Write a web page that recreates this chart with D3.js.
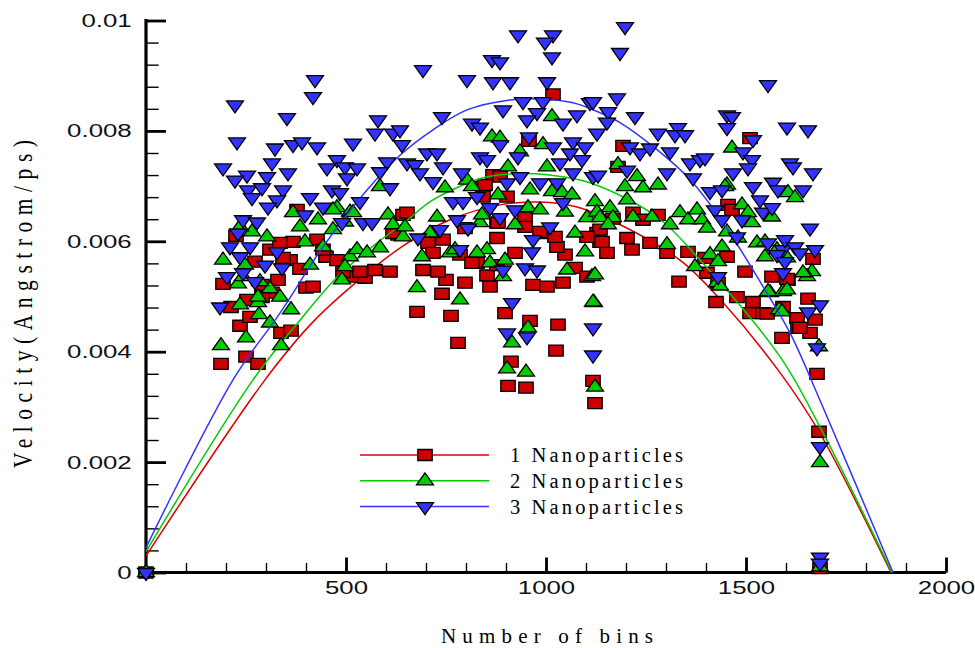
<!DOCTYPE html>
<html>
<head>
<meta charset="utf-8">
<script src="https://cdn.jsdelivr.net/npm/d3@7"></script>
<style>
  body { margin: 0; background: #fff; }
  svg { display: block; }
</style>
</head>
<body>
<svg id="chart" width="975" height="648"></svg>
<script>
// Scatter values: [bins, velocity]
var nano1 = [
  [0,0],[187.5,0.00378],[250,0.00391],[280,0.00378],[235,0.00447],[260,0.00463],[337.5,0.00434],[362.5,0.00438],
  [192.5,0.00523],[212.5,0.00481],[225,0.0061],[272.5,0.00563],[310,0.00585],[330,0.0053],[315,0.00507],[290,0.00499],
  [252.5,0.00494],[360,0.00566],[385,0.0055],[400,0.00516],[417.5,0.00518],[427.5,0.00603],[450,0.00572],[477.5,0.00566],
  [517.5,0.00536],[547.5,0.00534],[572.5,0.00548],[610,0.00545],[642.5,0.00648],[630,0.00612],[492.5,0.00545],[535,0.00545],
  [290,0.00521],[367.5,0.00599],[377.5,0.00657],[335,0.00597],[342.5,0.0057],[442.5,0.00585],[617.5,0.00615],
  [677.5,0.00472],[762.5,0.00465],[780,0.00416],[897.5,0.0047],[960,0.00456],[1030,0.00449],[912.5,0.00382],[1025,0.00402],
  [905,0.00338],[950,0.00335],[1117.5,0.00347],[1122.5,0.00307],[1017.5,0.00866],[957.5,0.00782],[877.5,0.00606],
  [922.5,0.00579],[947.5,0.00643],[877.5,0.00634],[852.5,0.00538],[860,0.00518],[827.5,0.00561],[797.5,0.00525],
  [750,0.0053],[740,0.00505],[730,0.00545],[692.5,0.00548],[967.5,0.00521],[1002.5,0.00518],[1042.5,0.00525],
  [1047.5,0.00576],[1072.5,0.00552],[1027.5,0.0059],[1102.5,0.00536],[652.5,0.00652],[867.5,0.0072],[842.5,0.00699],
  [1002.5,0.00615],[1127.5,0.00615],[1192.5,0.00773],[1180,0.00735],[1510,0.00787],[1167.5,0.00641],[1135,0.00621],
  [1135,0.00599],[1152.5,0.00579],[1202.5,0.00606],[1215,0.00585],[1260,0.00597],[1280,0.00648],[1302.5,0.00579],
  [1355,0.00581],[1217.5,0.00652],[1332.5,0.00527],[1452.5,0.00572],[1455,0.00666],[1402.5,0.00543],[1430,0.00525],
  [1497.5,0.00545],[1425,0.0049],[1477.5,0.00499],[1510,0.0047],[1542.5,0.0047],[1565,0.00536],[1590,0.00425],
  [1592.5,0.00481],[1465,0.00657],[1242.5,0.00639],[1667.5,0.00568],[1605,0.0053],[1655,0.00496],[1672.5,0.00458],
  [1627.5,0.00461],[1630,0.00443],[1660,0.00434],[1677.5,0.0036],[1682.5,0.00255],[1397.5,0.0057],[1517.5,0.0049],
  [1552.5,0.00469],[1602.5,0.00532],[1635,0.00443],[1685,0.00008],
  [885,0.00717],[847.5,0.00702],[842.5,0.00681],[902.5,0.00681],[880,0.00634],[947.5,0.00626],[1022.5,0.00608],
  [985,0.00617],[1102.5,0.00608],[1140,0.00599],[785,0.00576],[815,0.00561],[705,0.00597],[742.5,0.00603],
  [797.5,0.00624],[717.5,0.00579],[877.5,0.00557]
];

var nano2 = [
  [0,0],[187.5,0.00411],[250,0.00425],[282.5,0.00467],[310,0.00452],[337.5,0.00411],[362.5,0.00476],[235,0.00485],
  [280,0.00489],[785,0.00494],[955,0.00443],[915,0.00416],[902.5,0.00369],[950,0.00363],[1120,0.00489],[1122.5,0.00336],
  [1582.5,0.00476],[1682.5,0.00409],[1685,0.00199],[1685,0.0001],[192.5,0.00566],[230,0.00523],[247.5,0.00557],
  [265,0.00617],[302.5,0.00608],[235,0.00626],[280,0.00499],[310,0.00514],[335,0.00499],[367.5,0.00652],[385,0.00626],
  [397.5,0.00599],[410,0.00557],[442.5,0.0059],[430,0.00639],[467.5,0.00621],[477.5,0.00661],[510,0.00653],[510,0.00572],
  [497.5,0.00554],[490,0.0053],[527.5,0.00585],[552.5,0.00579],[585,0.00588],[585,0.00699],[605,0.00648],[617.5,0.0063],
  [642.5,0.00608],[242.5,0.00536],[285,0.00527],[497.5,0.00635],[517.5,0.00652],[467.5,0.00657],
  [677.5,0.00516],[690,0.00572],[747.5,0.00697],[727.5,0.00644],[710,0.00615],[802.5,0.00711],[815,0.00699],
  [852.5,0.00585],[860,0.00561],[897.5,0.00566],[892.5,0.00536],[865,0.00789],[885,0.00787],[835,0.00634],[880,0.00684],
  [905,0.00735],[935,0.00762],[960,0.00693],[922.5,0.0063],[955,0.00661],[985,0.00657],[992.5,0.00775],[1002.5,0.00735],
  [1015,0.00826],[1015,0.0069],[1040,0.00688],[1065,0.00684],[1047.5,0.00653],[1072.5,0.00615],[1097.5,0.00581],
  [1102.5,0.00643],[1122.5,0.00672],[1052.5,0.00548],[1115,0.00536],[1117.5,0.0049],[840,0.00648],[760,0.00579],
  [772.5,0.00585],[827.5,0.00579],[647.5,0.00626],[1180,0.00739],[1197.5,0.00699],[1227.5,0.00717],[1242.5,0.00697],
  [1280,0.00702],[1202.5,0.00675],[1127.5,0.00653],[1160,0.00661],[1167.5,0.00643],[1135,0.00643],[1155,0.0063],
  [1217.5,0.00644],[1265,0.00644],[1122.5,0.00539],[1302.5,0.00594],[1310,0.0063],[1335,0.00652],[1355,0.00639],
  [1377.5,0.00657],[1390,0.00639],[1402.5,0.00624],[1372.5,0.00554],[1410,0.00576],[1430,0.00563],[1440,0.0059],
  [1427.5,0.00525],[1465,0.00769],[1452.5,0.00702],[1490,0.00666],[1515,0.00634],[1452.5,0.00617],[1527.5,0.00597],
  [1547.5,0.00599],[1547.5,0.00572],[1577.5,0.00585],[1560,0.00507],[1602.5,0.0057],[1592.5,0.00509],[1447.5,0.00699],
  [1505,0.00652],[1480,0.00606],[1435,0.00519],[1555,0.00509],[1605,0.00688],[1622.5,0.00679],[1665,0.00545],
  [1652.5,0.00536],[1642.5,0.00543],[1602.5,0.00512],[1590,0.00472],[1565,0.00644]
];

var nano3 = [
  [0,0],[422.5,0.00893],[417.5,0.00862],[222.5,0.00847],[352.5,0.00824],[580,0.0082],[572.5,0.00796],[617.5,0.00796],
  [227.5,0.0078],[322.5,0.00769],[367.5,0.00775],[390,0.0078],[427.5,0.00771],[517.5,0.00778],[640,0.00775],
  [477.5,0.00748],[452.5,0.00733],[497.5,0.00735],[527.5,0.00733],[602.5,0.00744],[585,0.00726],[315,0.00742],
  [192.5,0.00733],[252.5,0.0072],[222.5,0.00711],[355,0.00724],[302.5,0.00717],[502.5,0.00715],[255,0.00693],
  [290,0.00697],[265,0.00679],[342.5,0.00693],[327.5,0.00675],[305,0.00662],[465,0.00693],[485,0.00688],[610,0.00697],
  [410,0.00679],[442.5,0.00662],[535,0.00672],[397.5,0.00648],[490,0.00634],[542.5,0.00634],[565,0.00634],
  [242.5,0.00639],[277.5,0.00635],[230,0.00615],[210,0.0059],[260,0.0059],[235,0.00572],[327.5,0.00581],[297.5,0.00557],
  [340,0.00552],[202.5,0.00536],[242.5,0.00543],[272.5,0.00527],[185,0.00481],
  [930,0.00974],[1017.5,0.00974],[997.5,0.00961],[1015,0.00934],[865,0.00929],[885,0.00925],[692.5,0.00911],
  [802.5,0.00893],[867.5,0.00889],[910,0.00889],[1002.5,0.00889],[740,0.00826],[892.5,0.00838],[942.5,0.00853],
  [992.5,0.00853],[1110,0.00851],[1077.5,0.00829],[977.5,0.00833],[952.5,0.0082],[1042.5,0.00814],[815,0.00814],
  [835,0.00807],[635,0.00802],[957.5,0.00789],[885,0.00775],[1067.5,0.0078],[1097.5,0.00771],[1017.5,0.00771],
  [702.5,0.0076],[727.5,0.0076],[652.5,0.00742],[672.5,0.00739],[742.5,0.00735],[835,0.00753],[852.5,0.00748],
  [930,0.00753],[1035,0.00742],[1060,0.0076],[1090,0.00748],[685,0.00724],[790,0.00724],[717.5,0.00708],[935,0.00717],
  [902.5,0.00706],[985,0.00706],[1027.5,0.00706],[1067.5,0.00724],[1117.5,0.00717],[827.5,0.00681],[767.5,0.00672],
  [792.5,0.00672],[1042.5,0.0067],[860,0.00661],[922.5,0.00657],[885,0.00643],[1010,0.00626],[777.5,0.00639],
  [805,0.00624],[735,0.00621],[680,0.00606],[967.5,0.00603],[785,0.00585],[965,0.00581],[892.5,0.00548],
  [947.5,0.00552],[977.5,0.00548],[915,0.00489],[902.5,0.00434],[952.5,0.00427],[1117.5,0.00443],[1117.5,0.00394],
  [1197.5,0.00989],[1185,0.00942],[1555,0.00884],[1117.5,0.00853],[1177.5,0.0086],[1155,0.00835],[1152.5,0.00816],
  [1222.5,0.00826],[1127.5,0.00796],[1210,0.00771],[1235,0.0076],[1260,0.00769],[1280,0.00796],[1330,0.00806],
  [1322.5,0.00793],[1347.5,0.00793],[1310,0.00762],[1452.5,0.00829],[1465,0.00826],[1452.5,0.00806],[1602.5,0.00807],
  [1517.5,0.00784],[1492.5,0.00762],[1515,0.00748],[1360,0.00742],[1385,0.00748],[1397.5,0.00751],[1610,0.00742],
  [1505,0.00733],[1202.5,0.00729],[1130,0.0072],[1302.5,0.00724],[1467.5,0.00724],[1367.5,0.00715],[1517.5,0.00699],
  [1567.5,0.00707],[1580,0.00693],[1535,0.00675],[1410,0.0069],[1440,0.00693],[1422.5,0.00657],[1440,0.00639],
  [1542.5,0.00653],[1565,0.00661],[1490,0.00639],[1477.5,0.00608],[1555,0.00597],[1592.5,0.00585],[1592.5,0.00543],
  [1430,0.00536],[1655,0.00802],[1617.5,0.00735],[1667.5,0.00724],[1642.5,0.00693],[1660,0.00624],[1597.5,0.00603],
  [1622.5,0.0059],[1635,0.00579],[1672.5,0.00585],[1577.5,0.00576],[1597.5,0.00563],[1685,0.00485],[1655,0.00472],
  [1677.5,0.00407],[1685,0.00228],[1685,0.00028],[1685,0.00017]
];

// Fitted curves
var fit1 = [[0,0.0003],[297.5,0.00349],[417.5,0.00454],[542.5,0.00536],[647.5,0.00594],[760,0.00639],[885,0.00666],
  [985,0.00671],[1077.5,0.00662],[1160,0.00639],[1335,0.00566],[1442.5,0.00489],[1585,0.00362],[1682.5,0.00255],[1862.5,0]];
var fit2 = [[0,0.00038],[267.5,0.00349],[385,0.00457],[477.5,0.00535],[577.5,0.00597],[647.5,0.00635],[717.5,0.00675],
  [842.5,0.00715],[910,0.00722],[1010,0.0072],[1110,0.00706],[1277.5,0.00644],[1385,0.00566],[1585,0.00391],[1682.5,0.00267],[1865,0]];
var fit3 = [[0,0.00045],[217.5,0.00349],[335,0.0047],[442.5,0.0059],[552.5,0.00693],[635,0.00756],[717.5,0.00802],
  [802.5,0.00838],[910,0.00856],[985,0.00858],[1067.5,0.00851],[1135,0.00833],[1185,0.00815],[1277.5,0.00766],
  [1360,0.00712],[1442.5,0.00634],[1542.5,0.00518],[1610,0.00434],[1685,0.00312],[1867.5,0]];

var seriesNames = ["1 Nanoparticles", "2 Nanoparticles", "3 Nanoparticles"];
var xTickLabels = ["500", "1000", "1500", "2000"];
var yTickLabels = ["0", "0.002", "0.004", "0.006", "0.008", "0.01"];
var xTitle = "Number of bins";
var yTitle = "Velocity(Angstrom/ps)";

var svg = d3.select("#chart");

var x = d3.scaleLinear().domain([0, 2000]).range([146, 946]);
var y = d3.scaleLinear().domain([0, 0.01]).range([572.5, 20.5]);

var lineColors = ["#dd0000", "#00cc00", "#3333ff"];
var fillColors = ["#cc0000", "#00cc00", "#3333ff"];

// marker shapes, centred on the point
function markerPath(kind) {
  if (kind === 0) return "M-7.2,-5.5h14.4v11h-14.4Z";
  if (kind === 1) return "M0,-8L8.5,4L-8.5,4Z";
  return "M0,8L8.5,-4L-8.5,-4Z";
}

var fonts = {
  sans: "'Liberation Sans', Arial, sans-serif",
  serif: "'Liberation Serif', 'Times New Roman', serif"
};

// ---- axes
var xMinor = d3.range(100, 2001, 100);
var xMajor = [500, 1000, 1500, 2000];
var yMinor = d3.range(0, 0.01001, 0.0004);
var yMajor = [0, 0.002, 0.004, 0.006, 0.008, 0.01];

var gx = svg.append("g").attr("transform", "translate(0,572.5)");
gx.call(d3.axisBottom(x).tickValues(xMinor).tickSize(-9.5).tickSizeOuter(0).tickFormat(""));
gx.selectAll(".tick line").attr("stroke-width", 1.4);
var gxMaj = svg.append("g").attr("transform", "translate(0,572.5)");
gxMaj.call(d3.axisBottom(x).tickValues(xMajor).tickSize(-15).tickSizeOuter(0).tickPadding(8)
  .tickFormat(function(d, i) { return xTickLabels[i]; }));
gxMaj.selectAll(".tick line").attr("stroke-width", 2.8);
gxMaj.selectAll(".tick text")
  .attr("font-family", fonts.sans).attr("font-size", 19).attr("fill", "#111")
  .attr("transform", "scale(1.36,1)");
svg.selectAll(".domain").remove();

var gy = svg.append("g").attr("transform", "translate(146,0)");
gy.call(d3.axisLeft(y).tickValues(yMinor).tickSize(-12.7).tickSizeOuter(0).tickFormat(""));
gy.selectAll(".tick line").attr("stroke-width", 1.4);
var gyMaj = svg.append("g").attr("transform", "translate(146,0)");
gyMaj.call(d3.axisLeft(y).tickValues(yMajor).tickSize(-20).tickSizeOuter(0).tickPadding(10.5)
  .tickFormat(function(d, i) { return yTickLabels[i]; }));
gyMaj.selectAll(".tick line").attr("stroke-width", 2.8);
gyMaj.selectAll(".tick text")
  .attr("font-family", fonts.sans).attr("font-size", 19).attr("fill", "#111")
  .attr("transform", "scale(1.36,1)");
svg.selectAll(".domain").remove();

// axis lines
svg.append("line").attr("x1", x(0)).attr("x2", x(2000)).attr("y1", y(0)).attr("y2", y(0))
  .attr("stroke", "#000").attr("stroke-width", 3);
svg.append("line").attr("x1", x(0)).attr("x2", x(0)).attr("y1", y(0) + 1.5).attr("y2", y(0.01) - 1.4)
  .attr("stroke", "#000").attr("stroke-width", 3.2);

// ---- series
var fits = [fit1, fit2, fit3];
var points = [nano1, nano2, nano3];
var line = d3.line().x(function(d){ return x(d[0]); }).y(function(d){ return y(d[1]); })
  .curve(d3.curveCatmullRom.alpha(0.5));

points.forEach(function(pts, k) {
  svg.append("path").datum(fits[k])
    .attr("d", line)
    .attr("fill", "none")
    .attr("stroke", lineColors[k])
    .attr("stroke-width", 1.5);
  svg.append("g").selectAll("path").data(pts).enter()
    .append("path")
      .attr("d", markerPath(k))
      .attr("transform", function(d){ return "translate(" + x(d[0]) + "," + y(d[1]) + ")"; })
      .attr("fill", fillColors[k])
      .attr("stroke", "#000")
      .attr("stroke-width", 1.3)
      .attr("stroke-linejoin", "miter");
});

// ---- legend
var legend = svg.append("g");
seriesNames.forEach(function(name, k) {
  var ly = 455 + k * 25.8;
  legend.append("line").attr("x1", 360).attr("x2", 489).attr("y1", ly).attr("y2", ly)
    .attr("stroke", lineColors[k]).attr("stroke-width", 1.5);
  legend.append("path").attr("d", markerPath(k))
    .attr("transform", "translate(425," + ly + ")")
    .attr("fill", fillColors[k]).attr("stroke", "#000").attr("stroke-width", 1.3);
  legend.append("text").attr("x", 510).attr("y", ly + 7)
    .attr("font-family", fonts.serif).attr("font-size", 20.5)
    .attr("textLength", 173).attr("lengthAdjust", "spacing")
    .text(name);
});

// ---- titles
svg.append("text").attr("x", 441).attr("y", 643)
  .attr("font-family", fonts.serif).attr("font-size", 21)
  .attr("textLength", 212).attr("lengthAdjust", "spacing")
  .text(xTitle);

svg.append("text")
  .attr("transform", "translate(32,468) scale(1.3,1) rotate(-90)")
  .attr("font-family", fonts.serif).attr("font-size", 21.5)
  .attr("textLength", 328).attr("lengthAdjust", "spacing")
  .text(yTitle);
</script>
</body>
</html>
